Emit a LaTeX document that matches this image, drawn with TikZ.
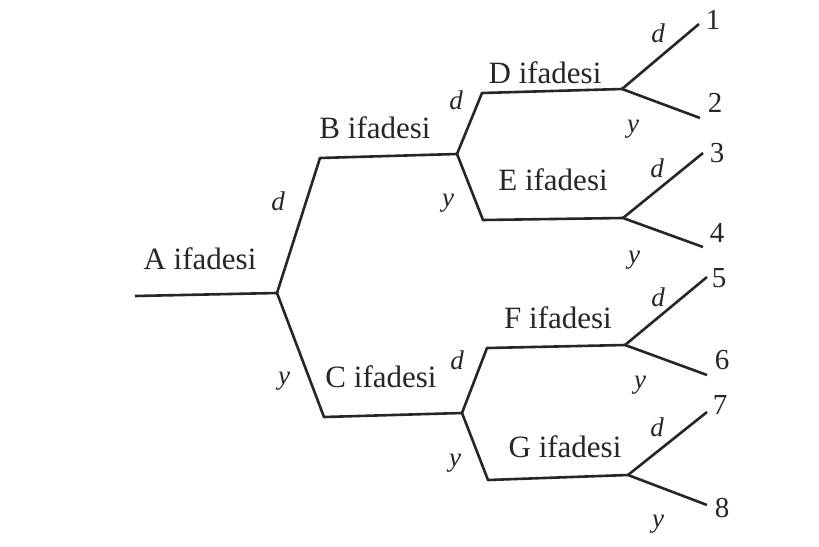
\documentclass[tikz,border=0pt]{standalone}
\usepackage{fontspec}
\setmainfont{Liberation Serif}
\begin{document}
\begin{tikzpicture}[x=1pt,y=-1pt,
  branch/.style={line width=2.6pt, draw=black!85, line join=round},
  lbl/.style={font=\fontsize{31}{33}\selectfont, text=black!85, inner sep=0pt},
  dy/.style={font=\itshape\fontsize{27}{29}\selectfont, text=black!85, inner sep=0pt},
  num/.style={font=\fontsize{29}{31}\selectfont, text=black!85, inner sep=0pt}]
\useasboundingbox[fill=white] (0,0) rectangle (819,546);
% junctions and corners
\coordinate (A0) at (135,296);
\coordinate (a) at (277,293);
\coordinate (b1) at (320,158);
\coordinate (b) at (457,154);
\coordinate (c1) at (324,417);
\coordinate (c) at (462,413);
\coordinate (d1) at (482,93);
\coordinate (dj) at (622,89);
\coordinate (e1) at (483,220);
\coordinate (ej) at (623,218);
\coordinate (f1) at (487,348);
\coordinate (fj) at (625,345);
\coordinate (g1) at (488,480);
\coordinate (gj) at (628,475);
\coordinate (t1) at (699,24);
\coordinate (t2) at (700,118);
\coordinate (t3) at (703,153);
\coordinate (t4) at (703,247);
\coordinate (t5) at (707,277);
\coordinate (t6) at (707,375);
\coordinate (t7) at (707,412);
\coordinate (t8) at (707,505);
% branches
\draw[branch] (A0) -- (a);
\draw[branch] (a) -- (b1) -- (b);
\draw[branch] (a) -- (c1) -- (c);
\draw[branch] (b) -- (d1) -- (dj);
\draw[branch] (b) -- (e1) -- (ej);
\draw[branch] (c) -- (f1) -- (fj);
\draw[branch] (c) -- (g1) -- (gj);
\draw[branch] (dj) -- (t1);
\draw[branch] (dj) -- (t2);
\draw[branch] (ej) -- (t3);
\draw[branch] (ej) -- (t4);
\draw[branch] (fj) -- (t5);
\draw[branch] (fj) -- (t6);
\draw[branch] (gj) -- (t7);
\draw[branch] (gj) -- (t8);
% statement labels
\node[lbl] (LA) at (200,259) {A ifadesi};
\node[lbl] (LB) at (375,128) {B ifadesi};
\node[lbl] (LC) at (381,377) {C ifadesi};
\node[lbl] (LD) at (545,73) {D ifadesi};
\node[lbl] (LE) at (553,180) {E ifadesi};
\node[lbl] (LF) at (558,318) {F ifadesi};
\node[lbl] (LG) at (565,447) {G ifadesi};
% d / y labels
\node[dy] (dAB) at (278,201) {d};
\node[dy] (yAC) at (284,381) {y};
\node[dy] (dBD) at (456,100) {d};
\node[dy] (yBE) at (448,203) {y};
\node[dy] (dCF) at (457,360) {d};
\node[dy] (yCG) at (455,463) {y};
\node[dy] (dD1) at (658,33) {d};
\node[dy] (yD2) at (633,129) {y};
\node[dy] (dE3) at (657,168) {d};
\node[dy] (yE4) at (634,260) {y};
\node[dy] (dF5) at (658,297) {d};
\node[dy] (yF6) at (640,385) {y};
\node[dy] (dG7) at (657,427) {d};
\node[dy] (yG8) at (658,524) {y};
% outcome numbers
\node[num] (n1) at (713,20) {1};
\node[num] (n2) at (715,103) {2};
\node[num] (n3) at (717,153) {3};
\node[num] (n4) at (717,233) {4};
\node[num] (n5) at (719,278) {5};
\node[num] (n6) at (722,360) {6};
\node[num] (n7) at (720,405) {7};
\node[num] (n8) at (722,508) {8};
\end{tikzpicture}
\end{document}
